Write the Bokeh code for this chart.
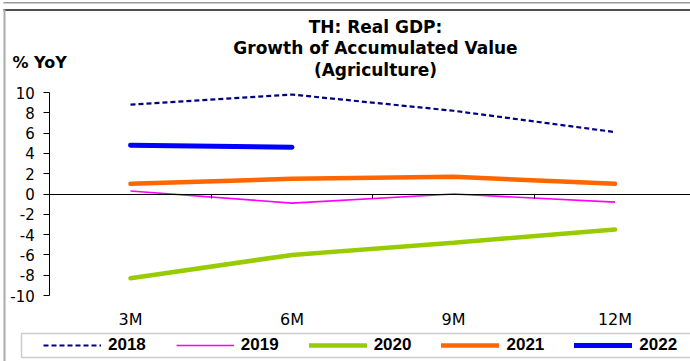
import numpy as np
from bokeh.plotting import figure
from bokeh.models import (Range1d, FixedTicker, Legend, LegendItem, Label, LinearAxis,
                          BoxAnnotation)
from bokeh.embed import file_html
from bokeh.resources import INLINE

categories = ["3M", "6M", "9M", "12M"]
y2018 = [8.8, 9.8, 8.2, 6.1]
y2019 = [0.3, -0.9, 0.0, -0.8]
y2020 = [-8.3, -6.0, -4.8, -3.5]
y2021 = [1.0, 1.5, 1.7, 1.0]
y2022 = [4.8, 4.6]
y_ticks = list(range(-10, 11, 2))
title_lines = ["TH: Real GDP:", "Growth of Accumulated Value", "(Agriculture)"]
unit_label = "% YoY"

xpos = np.arange(len(categories)) + 0.5
bounds = np.arange(1, len(categories))

FONT = "Liberation Sans"
FONT_W = "DejaVu Sans"
W, H = 690, 361
# plotting area inside the canvas (pixels): left edge, value 10 and value -10 positions
PX_LEFT, PX_TOP, PX_BOTTOM, PX_CAT = 49.25, 92, 295, 161.5
px_per_unit = (PX_BOTTOM - PX_TOP) / 20.0
x_start = -PX_LEFT / PX_CAT
x_end = (W - PX_LEFT) / PX_CAT
y_end = 10 + PX_TOP / px_per_unit
y_start = -10 - (H - PX_BOTTOM) / px_per_unit

p = figure(width=W, height=H, output_backend="svg", toolbar_location=None, title=None,
           x_range=Range1d(x_start, x_end), y_range=Range1d(y_start, y_end),
           x_axis_location=None, y_axis_location=None,
           min_border=0, min_border_left=0, min_border_right=0,
           min_border_top=0, min_border_bottom=0)
p.outline_line_color = None
p.grid.visible = False
p.background_fill_color = "white"
p.border_fill_color = "white"


def screen_box(**kw):
    return BoxAnnotation(left_units="screen", right_units="screen",
                         bottom_units="screen", top_units="screen", **kw)


# chart frame decorations
p.add_layout(screen_box(left=3, right=W + 5, bottom=H - 3, top=H - 1.5,
                        fill_color="#999999", fill_alpha=1, line_color=None))
p.add_layout(screen_box(left=3, right=W + 5, bottom=H - 10.5, top=H - 8.5,
                        fill_color="#505050", fill_alpha=1, line_color=None))
p.add_layout(screen_box(left=3, right=5, bottom=-5, top=H - 9,
                        fill_color="#AAAAAA", fill_alpha=1, line_color=None))

# y axis
yaxis = LinearAxis(fixed_location=0, bounds=(-10, 10), ticker=FixedTicker(ticks=y_ticks),
                   major_label_overrides={t: str(t) for t in y_ticks},
                   major_label_text_font=FONT_W, major_label_text_font_size="15px",
                   major_label_text_color="black", major_tick_out=6, major_tick_in=0,
                   minor_tick_line_color=None, axis_line_color="black",
                   major_tick_line_color="black", major_label_standoff=9)
p.add_layout(yaxis, "left")

# category labels
xaxis = LinearAxis(fixed_location=-10, ticker=FixedTicker(ticks=list(xpos)),
                   major_label_overrides={float(x): c for x, c in zip(xpos, categories)},
                   major_label_text_font=FONT_W, major_label_text_font_size="16px",
                   major_label_text_color="black", axis_line_color=None,
                   major_tick_line_color=None, minor_tick_line_color=None,
                   major_label_standoff=8)
p.add_layout(xaxis, "below")

# zero line with category boundary ticks
zaxis = LinearAxis(fixed_location=0, bounds=(0, x_end), ticker=FixedTicker(ticks=list(bounds)),
                   major_label_text_font_size="0px", major_label_text_alpha=0,
                   axis_line_color="black", major_tick_line_color="black",
                   major_tick_out=4, major_tick_in=0, minor_tick_line_color=None)
p.add_layout(zaxis, "below")

r18 = p.line(xpos, y2018, line_color="#000080", line_width=2.2, line_dash="5 3")
r19 = p.line(xpos, y2019, line_color="#FF00FF", line_width=1.6)
r20 = p.line(xpos, y2020, line_color="#99CC00", line_width=4.5, line_cap="round")
r21 = p.line(xpos, y2021, line_color="#FF6600", line_width=4.5, line_cap="round")
r22 = p.line(xpos[:len(y2022)], y2022, line_color="#0000FF", line_width=5, line_cap="round")

# title and unit label
for line, y in zip(title_lines, [335, 314, 292]):
    p.add_layout(Label(x=375, y=y, x_units="screen", y_units="screen", text=line,
                       text_font=FONT_W, text_font_size="17px", text_font_style="bold",
                       text_color="black", text_align="center", text_baseline="middle"))
p.add_layout(Label(x=12, y=299, x_units="screen", y_units="screen", text=unit_label,
                   text_font=FONT_W, text_font_size="16px", text_font_style="bold",
                   text_color="black", text_align="left", text_baseline="middle"))

# legend box and legend
p.add_layout(screen_box(left=21, right=W + 5, bottom=4, top=28,
                        fill_color="white", fill_alpha=1,
                        line_color="#555555", line_width=1.5))
legend = Legend(items=[LegendItem(label="2018", renderers=[r18]),
                       LegendItem(label="2019", renderers=[r19]),
                       LegendItem(label="2020", renderers=[r20]),
                       LegendItem(label="2021", renderers=[r21]),
                       LegendItem(label="2022", renderers=[r22])],
                orientation="horizontal", location=(43, 6),
                label_text_font=FONT, label_text_font_size="17px", label_text_font_style="bold",
                label_text_color="black",
                glyph_width=58, glyph_height=16, label_height=16, label_standoff=7,
                spacing=30, padding=4, margin=0,
                border_line_color=None, background_fill_alpha=0)
p.add_layout(legend, "center")

open("out.html", "w").write(file_html(p, INLINE))
